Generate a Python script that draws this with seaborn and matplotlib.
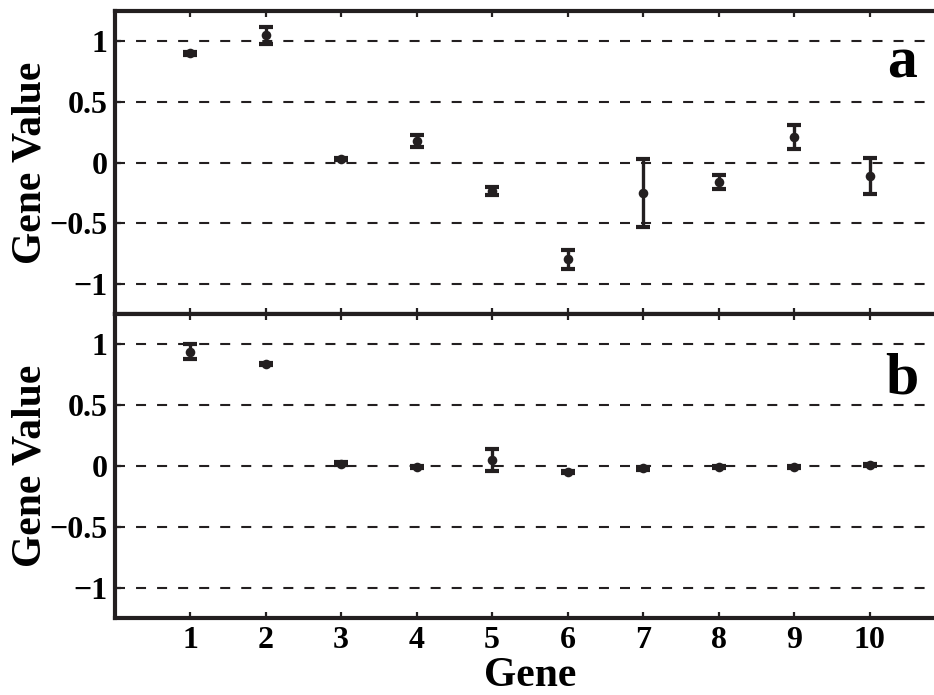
import matplotlib
matplotlib.use("Agg")
import matplotlib.pyplot as plt
import seaborn as sns
import pandas as pd

# ---- data ----
genes = [1, 2, 3, 4, 5, 6, 7, 8, 9, 10]
a_vals = [0.90, 1.05, 0.03, 0.18, -0.235, -0.80, -0.25, -0.16, 0.21, -0.11]
a_err = [0.01, 0.07, 0.01, 0.05, 0.03, 0.08, 0.28, 0.06, 0.10, 0.15]
b_vals = [0.94, 0.84, 0.02, -0.01, 0.05, -0.05, -0.02, -0.01, -0.01, 0.01]
b_err = [0.06, 0.01, 0.01, 0.01, 0.09, 0.01, 0.01, 0.01, 0.01, 0.01]
yticks = [-1, -0.5, 0, 0.5, 1]
ytick_labels = ["\u22121", "\u22120.5", "0", "0.5", "1"]
panel_labels = ["a", "b"]

sns.set_theme(style="white")
plt.rcParams["font.family"] = ["Liberation Serif", "DejaVu Serif"]
plt.rcParams["font.weight"] = "bold"
plt.rcParams["axes.labelweight"] = "bold"

INK = "#231f20"
W, H = 934, 695
fig = plt.figure(figsize=(W / 100, H / 100), dpi=100)
ax_a = fig.add_axes([114.7 / W, 1 - 314 / H, 830.3 / W, 303 / H])
ax_b = fig.add_axes([114.7 / W, 1 - 618 / H, 830.3 / W, 304 / H])

panels = [(ax_a, a_vals, a_err, 0.779), (ax_b, b_vals, b_err, 0.739)]
for i, (ax, vals, errs, ly) in enumerate(panels):
    df = pd.DataFrame({"Gene": genes, "Value": vals, "Err": errs})
    ax.errorbar(df["Gene"], df["Value"], yerr=df["Err"], fmt="none",
                ecolor=INK, elinewidth=2.4, capsize=5, capthick=3.0, zorder=3)
    sns.scatterplot(data=df, x="Gene", y="Value", ax=ax, color=INK,
                    s=48, marker="o", edgecolor=INK, linewidth=0, zorder=4)
    ax.set_xlim(0, 11)
    ax.set_ylim(-1.25, 1.25)
    ax.set_yticks(yticks)
    ax.set_yticklabels(ytick_labels)
    ax.set_xticks(genes)
    ax.yaxis.grid(True, linestyle=(0, (4.8, 5.3)), linewidth=1.5, color=INK)
    ax.xaxis.grid(False)
    ax.set_axisbelow(True)
    for sp in ax.spines.values():
        sp.set_linewidth(3.0)
        sp.set_color(INK)
    ax.tick_params(axis="x", direction="in", length=4.5, width=1.6, color=INK,
                   top=True, bottom=True, labelsize=23, pad=6, labelcolor="black")
    ax.tick_params(axis="y", direction="in", length=4.5, width=1.6, color=INK,
                   left=True, right=False, labelsize=23, pad=5, labelcolor="black")
    ax.set_ylabel("Gene Value", fontsize=30, fontweight="bold", color="black")
    ax.yaxis.set_label_coords(-0.078, 0.5)
    ax.text(0.948, ly, panel_labels[i], transform=ax.transAxes, fontsize=43,
            fontweight="bold", ha="center", va="baseline", color="black")

ax_a.tick_params(axis="x", labelbottom=False)
ax_a.set_xlabel("")
ax_b.set_xlabel("Gene", fontsize=30, fontweight="bold", color="black")
ax_b.xaxis.set_label_coords(0.5, -0.128)

fig.savefig("out.png", dpi=100, facecolor="white")
